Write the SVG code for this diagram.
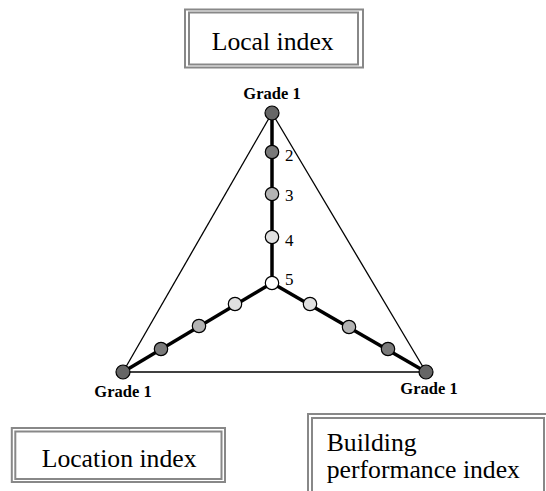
<svg xmlns="http://www.w3.org/2000/svg" width="546" height="491" viewBox="0 0 546 491">
<style>
.bx{fill:none;stroke:#888;stroke-width:2}
.bt{font-family:"Liberation Serif","Times New Roman",serif;font-size:25.7px;fill:#000}
.gl{font-family:"Liberation Serif","Times New Roman",serif;font-size:16.5px;font-weight:bold;fill:#000}
.num{font-family:"Liberation Serif","Times New Roman",serif;font-size:17px;fill:#000}
.spoke{stroke:#000;stroke-width:3.5;fill:none}
.tri{stroke:#000;stroke-width:1.3;fill:none}
.c{stroke:#000;stroke-width:1.2}
.g1{fill:#666}.g2{fill:#7a7a7a}.g3{fill:#b3b3b3}.g4{fill:#e0e0e0}.g5{fill:#fff}
</style>
<rect width="546" height="491" fill="#fff"/>
<g id="connectors">
<line class="tri" x1="272" y1="113" x2="123" y2="372"/>
<line class="tri" x1="272" y1="113" x2="426" y2="372"/>
<line class="tri" x1="123" y1="372" x2="426" y2="372" stroke-width="2"/>
<line class="spoke" x1="272" y1="283" x2="272" y2="113"/>
<line class="spoke" x1="272" y1="283" x2="123" y2="372"/>
<line class="spoke" x1="272" y1="283" x2="426" y2="372"/>
</g>
<g id="box-local">
<rect class="bx" x="185" y="9.5" width="178" height="58"/>
<rect class="bx" x="189" y="12.5" width="169" height="52"/>
<text class="bt" x="211.7" y="50">Local index</text>
</g>
<g id="box-location">
<rect class="bx" x="11.8" y="428" width="213.2" height="54"/>
<rect class="bx" x="15.3" y="431.5" width="206.2" height="47.5"/>
<text class="bt" x="41.7" y="466.7">Location index</text>
</g>
<g id="box-building">
<rect class="bx" x="308" y="414" width="250" height="90"/>
<rect class="bx" x="312" y="418" width="232" height="90" stroke-width="1.5"/>
<text class="bt" x="326.7" y="450.7">Building</text>
<text class="bt" x="326.7" y="477.5">performance index</text>
</g>
<g id="node-top">
<circle class="c g1" cx="272" cy="113" r="7"/>
<text class="gl" x="272" y="99" text-anchor="middle">Grade 1</text>
</g>
<g id="node-top-2"><circle class="c g2" cx="272" cy="152" r="6.7"/><text class="num" x="285" y="161">2</text></g>
<g id="node-top-3"><circle class="c g3" cx="272" cy="194" r="6.7"/><text class="num" x="285" y="201">3</text></g>
<g id="node-top-4"><circle class="c g4" cx="272" cy="237" r="6.7"/><text class="num" x="285" y="246">4</text></g>
<g id="node-center"><circle class="c g5" cx="272" cy="283" r="6.7"/><text class="num" x="285" y="285">5</text></g>
<g id="node-left">
<circle class="c g1" cx="123" cy="372" r="7"/>
<text class="gl" x="123" y="397" text-anchor="middle">Grade 1</text>
</g>
<g id="node-left-2"><circle class="c g2" cx="161" cy="349" r="6.7"/></g>
<g id="node-left-3"><circle class="c g3" cx="199" cy="326" r="6.7"/></g>
<g id="node-left-4"><circle class="c g4" cx="235" cy="304" r="6.7"/></g>
<g id="node-right">
<circle class="c g1" cx="426" cy="372" r="7"/>
<text class="gl" x="429" y="394" text-anchor="middle">Grade 1</text>
</g>
<g id="node-right-2"><circle class="c g2" cx="388" cy="349" r="6.7"/></g>
<g id="node-right-3"><circle class="c g3" cx="349" cy="327" r="6.7"/></g>
<g id="node-right-4"><circle class="c g4" cx="310" cy="304" r="6.7"/></g>
</svg>
